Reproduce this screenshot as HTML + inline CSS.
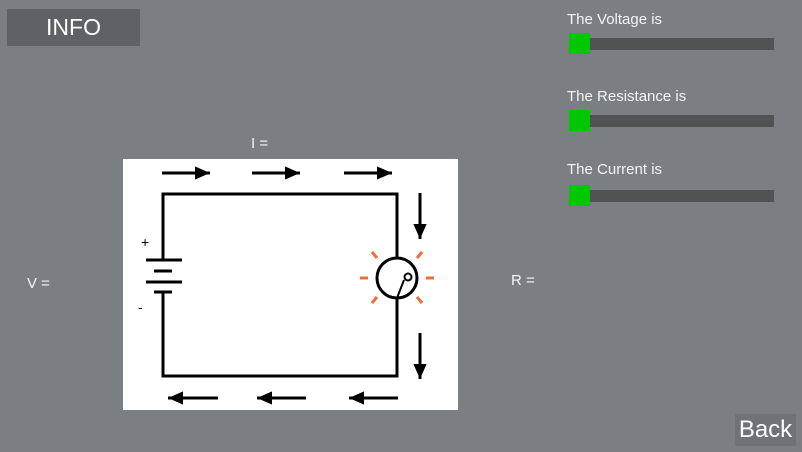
<!DOCTYPE html>
<html><head><style>
body{margin:0;width:802px;height:452px;background:#7b7e83;position:relative;overflow:hidden;font-family:"Liberation Sans",sans-serif;color:#fff}
.a{position:absolute}
.lbl{font-size:15px;color:#f4f4f4}
.track{position:absolute;left:569px;width:205px;height:12px;background:#515254}
.thumb{position:absolute;left:569px;width:21px;height:21px;background:#00c800}
</style></head><body>
<div class="a" style="left:7px;top:9px;width:133px;height:37px;background:#5f6166;font-size:23px;line-height:37px;text-align:center;color:#fff">INFO</div>
<div class="a lbl" style="left:251px;top:135px">I =</div>
<div class="a lbl" style="left:27px;top:275px">V =</div>
<div class="a lbl" style="left:511px;top:272px">R =</div>
<div class="a lbl" style="left:567px;top:11px">The Voltage is</div>
<div class="track" style="top:38px"></div>
<div class="thumb" style="top:33px"></div>
<div class="a lbl" style="left:567px;top:88px">The Resistance is</div>
<div class="track" style="top:115px"></div>
<div class="thumb" style="top:110px"></div>
<div class="a lbl" style="left:567px;top:161px">The Current is</div>
<div class="track" style="top:190px"></div>
<div class="thumb" style="top:185px"></div>
<div class="a" style="left:735px;top:414px;width:61px;height:32px;background:#6f7277;font-size:24px;line-height:32px;text-align:center">Back</div>
<svg class="a" style="left:123px;top:159px" width="335" height="251" viewBox="123 159 335 251">
<defs><marker id="ah" markerWidth="5" markerHeight="4.4" refX="5" refY="2.2" orient="auto" markerUnits="strokeWidth"><path d="M0,0L5,2.2L0,4.4z" fill="#000"/></marker></defs>
<rect x="123" y="159" width="335" height="251" fill="#fff"/>
<g stroke="#000" stroke-width="3" fill="none">
<path d="M163,260V194H397V258M397,298V376H163V292"/>
<line x1="146" y1="260" x2="182" y2="260"/><line x1="154" y1="271" x2="172" y2="271"/>
<line x1="146" y1="282" x2="182" y2="282"/><line x1="154" y1="292" x2="172" y2="292"/>
<circle cx="397" cy="278" r="20"/>
<circle cx="408" cy="277" r="3.5" stroke-width="2"/>
<path d="M397,298L404,280" stroke-width="2"/>
<g stroke-width="3" marker-end="url(#ah)">
<line x1="162" y1="173" x2="210" y2="173"/><line x1="252" y1="173" x2="300" y2="173"/><line x1="344" y1="173" x2="392" y2="173"/>
<line x1="420" y1="193" x2="420" y2="239"/><line x1="420" y1="333" x2="420" y2="379"/>
<line x1="218" y1="398" x2="168" y2="398"/><line x1="306" y1="398" x2="257" y2="398"/><line x1="398" y1="398" x2="349" y2="398"/>
</g></g>
<g stroke="#e8703a" stroke-width="3">
<line x1="360" y1="278" x2="368" y2="278"/><line x1="426" y1="278" x2="434" y2="278"/>
<line x1="372" y1="252" x2="377" y2="258"/><line x1="422" y1="252" x2="417" y2="258"/>
<line x1="372" y1="303" x2="377" y2="297"/><line x1="422" y1="303" x2="417" y2="297"/>
</g>
<text x="141" y="247" font-size="14" font-family="Liberation Sans">+</text>
<text x="138" y="312" font-size="14" font-family="Liberation Sans">-</text>
</svg>
</body></html>
